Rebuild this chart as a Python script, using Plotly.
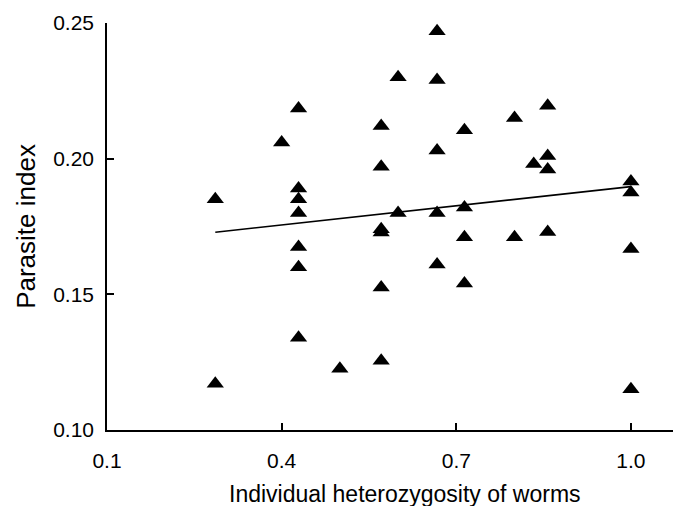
import plotly.graph_objects as go

# Individual heterozygosity (x) and parasite index (y)
heterozygosity = [0.286, 0.286,
                  0.400,
                  0.429, 0.429, 0.429, 0.429, 0.429, 0.429, 0.429,
                  0.500,
                  0.571, 0.571, 0.571, 0.571, 0.571, 0.571,
                  0.600, 0.600,
                  0.667, 0.667, 0.667, 0.667, 0.667,
                  0.714, 0.714, 0.714, 0.714,
                  0.800, 0.800,
                  0.833,
                  0.857, 0.857, 0.857, 0.857,
                  1.000, 1.000, 1.000, 1.000]
parasite_index = [0.185, 0.117,
                  0.206,
                  0.2185, 0.189, 0.185, 0.180, 0.1674, 0.160, 0.134,
                  0.1226,
                  0.212, 0.197, 0.1740, 0.1728, 0.1525, 0.1255,
                  0.230, 0.180,
                  0.247, 0.229, 0.203, 0.180, 0.161,
                  0.2105, 0.182, 0.171, 0.154,
                  0.215, 0.171,
                  0.198,
                  0.2195, 0.201, 0.196, 0.173,
                  0.1916, 0.1875, 0.1667, 0.115]

# Regression line end points
fit_x = [0.286, 1.0]
fit_y = [0.1729, 0.1897]

x_ticks = [0.1, 0.4, 0.7, 1.0]
x_tick_labels = ["0.1", "0.4", "0.7", "1.0"]
y_ticks = [0.10, 0.15, 0.20, 0.25]
y_tick_labels = ["0.10", "0.15", "0.20", "0.25"]

FONT = "Liberation Sans, Arial, sans-serif"

fig = go.Figure()
fig.add_trace(go.Scatter(
    x=fit_x, y=fit_y, mode="lines",
    line=dict(color="black", width=1.6),
    showlegend=False, hoverinfo="skip"))
fig.add_trace(go.Scatter(
    x=heterozygosity, y=parasite_index, mode="markers",
    marker=dict(symbol="triangle-up", size=15, color="black",
                line=dict(width=0)),
    showlegend=False))

axis_common = dict(
    showgrid=False, zeroline=False, showline=True,
    linecolor="black", linewidth=1.5,
    ticks="inside", ticklen=7, tickwidth=1.5, tickcolor="black",
    tickfont=dict(family=FONT, size=21, color="black"),
)

fig.update_xaxes(
    range=[0.1, 1.086], tickvals=x_ticks, ticktext=x_tick_labels,
    ticklabelstandoff=11,
    **axis_common)
fig.update_yaxes(
    range=[0.10, 0.25], tickvals=y_ticks, ticktext=y_tick_labels,
    ticklabelstandoff=7,
    title=dict(text="Parasite index",
               font=dict(family=FONT, size=26, color="black"), standoff=10),
    **axis_common)

# x-axis title placed as a paper annotation (slightly right of plot centre, as in the reference)
fig.add_annotation(
    text="Individual heterozygosity of worms",
    xref="paper", yref="paper", x=0.52, y=0, yshift=-49,
    xanchor="center", yanchor="top", showarrow=False,
    font=dict(family=FONT, size=23, color="black"))

fig.update_layout(
    width=673, height=498,
    margin=dict(l=99, r=0, t=15, b=76),
    paper_bgcolor="white", plot_bgcolor="white",
    font=dict(family=FONT, color="black"),
)

fig.write_html("out.html")
